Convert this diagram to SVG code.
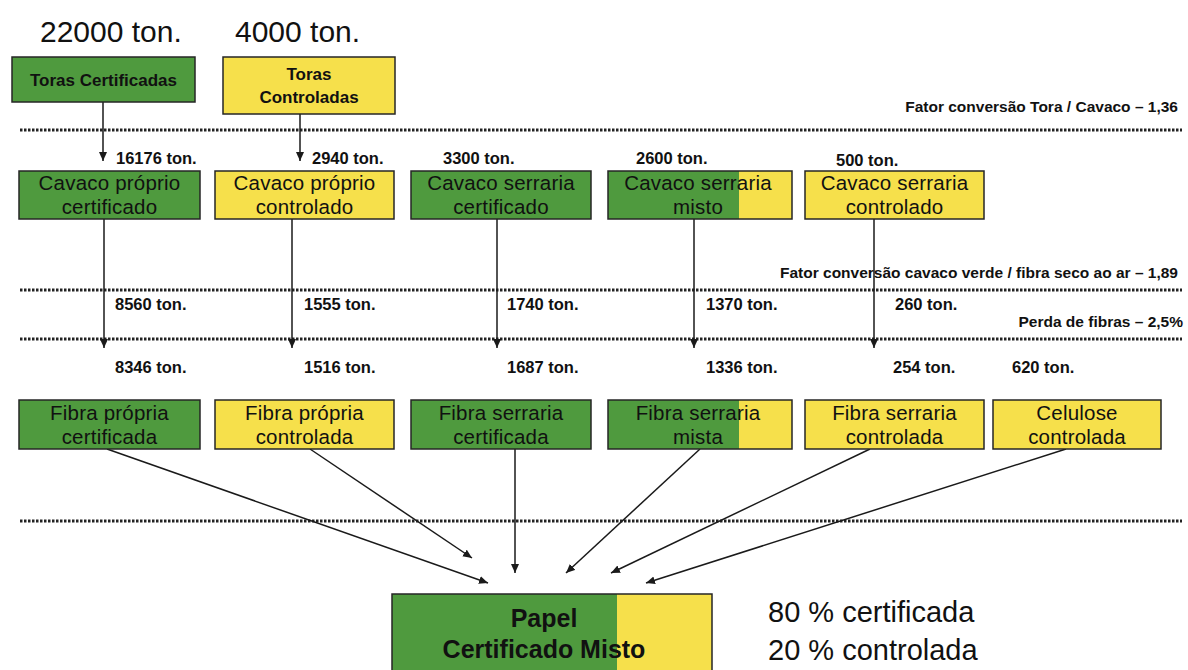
<svg xmlns="http://www.w3.org/2000/svg" width="1188" height="670" viewBox="0 0 1188 670">
<defs>
<marker id="ah" markerWidth="10" markerHeight="10" refX="9" refY="4" orient="auto" markerUnits="userSpaceOnUse"><path d="M0,0 L9,4 L0,8 Z" fill="#1a1a1a"/></marker>
<style>
.g{fill:#4f9a3e;stroke:#262626;stroke-width:1.5}
.y{fill:#f6e04b;stroke:#262626;stroke-width:1.5}
.gf{fill:#4f9a3e}
.yf{fill:#f6e04b}
.ol{fill:none;stroke:#262626;stroke-width:1.5}
.t{font-family:"Liberation Sans",Arial,sans-serif;fill:#111}
.bx{font-size:20.5px;text-anchor:middle;letter-spacing:0.2px}
.lb{font-size:16.5px;font-weight:bold}
.fa{font-size:15.5px;font-weight:bold;text-anchor:end}
.dot{stroke:#222;stroke-width:3;stroke-dasharray:2.5 1.5;fill:none}
.ar{stroke:#1a1a1a;stroke-width:1.5;fill:none;marker-end:url(#ah)}
</style>
</defs>
<rect width="1188" height="670" fill="#ffffff"/>

<g id="separators">
<line class="dot" x1="20" y1="130" x2="1182" y2="130"/>
<line class="dot" x1="20" y1="290" x2="1182" y2="290"/>
<line class="dot" x1="20" y1="339" x2="1182" y2="339"/>
<line class="dot" x1="20" y1="521" x2="1182" y2="521"/>
</g>

<g id="labels" class="t">
<text x="40" y="42" font-size="30">22000 ton.</text>
<text x="235" y="42" font-size="30">4000 ton.</text>
<text class="fa" x="1178" y="112">Fator conversão Tora / Cavaco – 1,36</text>
<text class="fa" x="1178" y="278">Fator conversão cavaco verde / fibra seco ao ar – 1,89</text>
<text class="fa" x="1183" y="327">Perda de fibras – 2,5%</text>
<text class="lb" x="116" y="164">16176 ton.</text>
<text class="lb" x="312" y="164">2940 ton.</text>
<text class="lb" x="443" y="164">3300 ton.</text>
<text class="lb" x="636" y="164">2600 ton.</text>
<text class="lb" x="836" y="166">500 ton.</text>
<text class="lb" x="115" y="310">8560 ton.</text>
<text class="lb" x="304" y="310">1555 ton.</text>
<text class="lb" x="507" y="310">1740 ton.</text>
<text class="lb" x="706" y="310">1370 ton.</text>
<text class="lb" x="895" y="310">260 ton.</text>
<text class="lb" x="115" y="373">8346 ton.</text>
<text class="lb" x="304" y="373">1516 ton.</text>
<text class="lb" x="507" y="373">1687 ton.</text>
<text class="lb" x="706" y="373">1336 ton.</text>
<text class="lb" x="893" y="373">254 ton.</text>
<text class="lb" x="1012" y="373">620 ton.</text>
<text x="768" y="622" font-size="29">80 % certificada</text>
<text x="768" y="660" font-size="29">20 % controlada</text>
</g>

<g id="connectors">
<line class="ar" x1="103" y1="102" x2="103" y2="161"/>
<line class="ar" x1="300" y1="114" x2="300" y2="161"/>
<line class="ar" x1="104" y1="219" x2="104" y2="348"/>
<line class="ar" x1="292" y1="219" x2="292" y2="348"/>
<line class="ar" x1="497" y1="219" x2="497" y2="348"/>
<line class="ar" x1="694" y1="219" x2="694" y2="348"/>
<line class="ar" x1="874" y1="219" x2="874" y2="348"/>
<line class="ar" x1="107" y1="449" x2="488" y2="583"/>
<line class="ar" x1="310" y1="449" x2="472" y2="558"/>
<line class="ar" x1="515" y1="449" x2="515" y2="573"/>
<line class="ar" x1="700" y1="449" x2="566" y2="573"/>
<line class="ar" x1="870" y1="449" x2="611" y2="573"/>
<line class="ar" x1="1066" y1="449" x2="646" y2="583"/>
</g>

<g id="toras-certificadas">
<rect class="g" x="12" y="57" width="183" height="45"/>
<text class="t" x="103.5" y="86" font-size="17" font-weight="bold" text-anchor="middle">Toras Certificadas</text>
</g>
<g id="toras-controladas">
<rect class="y" x="223" y="57" width="172" height="57"/>
<text class="t" x="309" y="80" font-size="17" font-weight="bold" text-anchor="middle">Toras</text>
<text class="t" x="309" y="103" font-size="17" font-weight="bold" text-anchor="middle">Controladas</text>
</g>

<g id="cavaco-proprio-certificado">
<rect class="g" x="19" y="171" width="181" height="48"/>
<text class="t bx" x="109.5" y="190">Cavaco próprio</text>
<text class="t bx" x="109.5" y="214">certificado</text>
</g>
<g id="cavaco-proprio-controlado">
<rect class="y" x="215" y="171" width="179" height="48"/>
<text class="t bx" x="304.5" y="190">Cavaco próprio</text>
<text class="t bx" x="304.5" y="214">controlado</text>
</g>
<g id="cavaco-serraria-certificado">
<rect class="g" x="411" y="171" width="180" height="48"/>
<text class="t bx" x="501" y="190">Cavaco serraria</text>
<text class="t bx" x="501" y="214">certificado</text>
</g>
<g id="cavaco-serraria-misto">
<rect class="gf" x="608" y="171" width="131" height="48"/>
<rect class="yf" x="739" y="171" width="53" height="48"/>
<rect class="ol" x="608" y="171" width="184" height="48"/>
<text class="t bx" x="698" y="190">Cavaco serraria</text>
<text class="t bx" x="698" y="214">misto</text>
</g>
<g id="cavaco-serraria-controlado">
<rect class="y" x="805" y="171" width="179" height="48"/>
<text class="t bx" x="894.5" y="190">Cavaco serraria</text>
<text class="t bx" x="894.5" y="214">controlado</text>
</g>

<g id="fibra-propria-certificada">
<rect class="g" x="19" y="400" width="181" height="49"/>
<text class="t bx" x="109.5" y="420">Fibra própria</text>
<text class="t bx" x="109.5" y="444">certificada</text>
</g>
<g id="fibra-propria-controlada">
<rect class="y" x="215" y="400" width="179" height="49"/>
<text class="t bx" x="304.5" y="420">Fibra própria</text>
<text class="t bx" x="304.5" y="444">controlada</text>
</g>
<g id="fibra-serraria-certificada">
<rect class="g" x="411" y="400" width="180" height="49"/>
<text class="t bx" x="501" y="420">Fibra serraria</text>
<text class="t bx" x="501" y="444">certificada</text>
</g>
<g id="fibra-serraria-mista">
<rect class="gf" x="608" y="400" width="131" height="49"/>
<rect class="yf" x="739" y="400" width="53" height="49"/>
<rect class="ol" x="608" y="400" width="184" height="49"/>
<text class="t bx" x="698" y="420">Fibra serraria</text>
<text class="t bx" x="698" y="444">mista</text>
</g>
<g id="fibra-serraria-controlada">
<rect class="y" x="805" y="400" width="179" height="49"/>
<text class="t bx" x="894.5" y="420">Fibra serraria</text>
<text class="t bx" x="894.5" y="444">controlada</text>
</g>
<g id="celulose-controlada">
<rect class="y" x="993" y="400" width="168" height="49"/>
<text class="t bx" x="1077" y="420">Celulose</text>
<text class="t bx" x="1077" y="444">controlada</text>
</g>

<g id="papel-certificado-misto">
<rect class="gf" x="392" y="594" width="225" height="90"/>
<rect class="yf" x="617" y="594" width="95" height="90"/>
<rect class="ol" x="392" y="594" width="320" height="90"/>
<text class="t" x="544" y="627" font-size="25" font-weight="bold" text-anchor="middle">Papel</text>
<text class="t" x="544" y="658" font-size="25" font-weight="bold" text-anchor="middle">Certificado Misto</text>
</g>
</svg>
